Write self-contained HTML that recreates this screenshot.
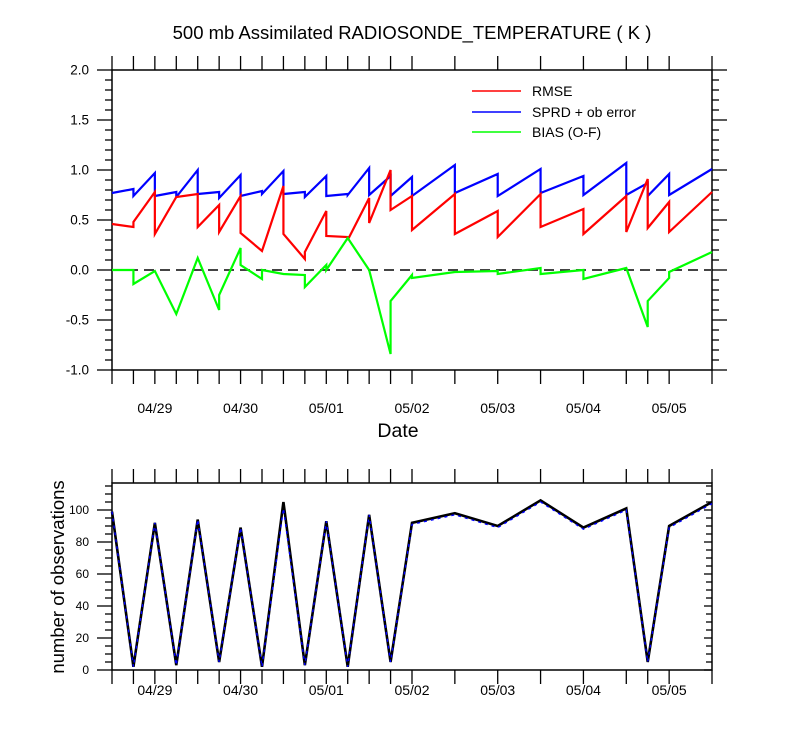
<!DOCTYPE html>
<html><head><meta charset="utf-8"><style>
body{margin:0;background:#fff}
svg text{font-family:"Liberation Sans",Arial,sans-serif;fill:#000}
</style></head><body>
<svg id="chart" width="800" height="750" xmlns="http://www.w3.org/2000/svg">
<text x="412" y="39" font-size="18.5" text-anchor="middle">500 mb Assimilated RADIOSONDE_TEMPERATURE ( K )</text>
<text x="398" y="437" font-size="19.5" text-anchor="middle">Date</text>
<text transform="translate(64,577) rotate(-90)" font-size="18.5" text-anchor="middle">number of observations</text>
<g>
<line x1="472" y1="91" x2="521" y2="91" stroke="#f00" stroke-width="1.5"/>
<text x="532" y="96" font-size="14">RMSE</text>
<line x1="472" y1="112" x2="521" y2="112" stroke="#00f" stroke-width="1.5"/>
<text x="532" y="117" font-size="14">SPRD + ob error</text>
<line x1="472" y1="132" x2="521" y2="132" stroke="#0f0" stroke-width="1.5"/>
<text x="532" y="137" font-size="14">BIAS (O-F)</text>
</g>
</svg>
<script>
const hours=[0,6,12,18,24,30,36,42,48,54,60,66,72,78,84,96,108,120,132,144,150,156,168];
const rmseIn =[.46,.43,.78,.73,.76,.65,.74,.19,.84,.11,.59,.33,.72,1.0,.74,.76,.59,.76,.61,.74,.91,.68,.78];
const rmseOut=[.46,.48,.36,.73,.43,.38,.37,.19,.36,.18,.34,.30,.47,.60,.40,.36,.33,.43,.36,.38,.42,.38,.78];
const sprdIn =[.77,.81,.97,.78,1.0,.78,.95,.79,.99,.78,.94,.76,1.02,.94,.93,1.05,.96,1.01,.94,1.07,.87,.96,1.01];
const sprdOut=[.77,.74,.74,.73,.76,.72,.74,.76,.76,.73,.74,.75,.75,.74,.74,.77,.74,.77,.75,.75,.74,.75,1.01];
const biasIn =[0,0,-.01,-.44,.12,-.40,.22,-.09,-.04,-.05,.05,.32,0,-.84,-.05,-.02,-.01,.02,0,.02,-.57,-.08,.18];
const biasOut=[0,-.14,-.01,-.44,.12,-.25,.05,0,-.04,-.17,0,.32,0,-.31,-.08,-.02,-.04,-.04,-.09,.02,-.31,-.02,.18];
const obsBlue=[99,2,92,3,94,5,89,2,101,3,93,2,97,5,91,97,89,105,88,100,5,89,104];
const obsBlack=[99,2,92,3,94,5,89,2,105,3,93,2,97,5,92,98,90,106,89,101,5,90,105];
const dateLabels=['04/29','04/30','05/01','05/02','05/03','05/04','05/05'];
const dateHours=[12,36,60,84,108,132,156];
const topTicks=[-1.0,-0.5,0.0,0.5,1.0,1.5,2.0];
const botTicks=[0,20,40,60,80,100];

const svg=document.getElementById('chart');
const NS='http://www.w3.org/2000/svg';
const X0=112,X1=712;
const xs=h=>X0+h*(X1-X0)/168;
const yTop=v=>370-(v+1)*100;
const yBot=v=>670-v*1.6;
function el(tag,attrs,parent){const e=document.createElementNS(NS,tag);for(const k in attrs)e.setAttribute(k,attrs[k]);(parent||svg).appendChild(e);return e;}
function ln(x1,y1,x2,y2,g,w){return el('line',{x1,y1,x2,y2,stroke:'#000','stroke-width':w||1.3},g);}

const gt=el('g',{});


el('rect',{x:X0,y:70,width:600,height:300,fill:'none',stroke:'#000','stroke-width':1.5},gt);
for(let i=0;i<=30;i++){const v=-1+i*0.1;const y=yTop(v);const maj=i%5==0;
 ln(X0-(maj?15:7),y,X0,y,gt);ln(X1,y,X1+(maj?15:7),y,gt);}
topTicks.forEach(v=>{const t=el('text',{x:89,y:yTop(v)+4.5,'font-size':13.5,'text-anchor':'end'});t.textContent=v.toFixed(1);
 
 });
hours.forEach(h=>{ln(xs(h),70,xs(h),56,gt);ln(xs(h),370,xs(h),384,gt);});
dateHours.forEach((h,i)=>{const t=el('text',{x:xs(h),y:413,'font-size':14,'text-anchor':'middle'});t.textContent=dateLabels[i];
 
 });
const zl=el('line',{x1:X0,y1:yTop(0),x2:X1,y2:yTop(0),stroke:'#444','stroke-width':2,'stroke-dasharray':'10,6'});


function series(inA,outA,color,name){let p=[];hours.forEach((h,i)=>{p.push(xs(h)+','+yTop(inA[i]));p.push(xs(h)+','+yTop(outA[i]));});
 const e=el('polyline',{points:p.join(' '),fill:'none',stroke:color,'stroke-width':2.2,'stroke-linejoin':'miter'});
 
 }
series(sprdIn,sprdOut,'#00f','sprd-line');
series(rmseIn,rmseOut,'#f00','rmse-line');
series(biasIn,biasOut,'#0f0','bias-line');

const gb=el('g',{});


el('rect',{x:X0,y:483,width:600,height:187,fill:'none',stroke:'#000','stroke-width':1.5},gb);
for(let v=0;v<=115;v+=5){const y=yBot(v);const maj=v%20==0;
 ln(X0-(maj?15:7),y,X0,y,gb);ln(X1-(maj?8:6),y,X1,y,gb);}
botTicks.forEach(v=>{const t=el('text',{x:89,y:yBot(v)+4,'font-size':12,'text-anchor':'end'});t.textContent=v;
 
 });
hours.forEach(h=>{ln(xs(h),483,xs(h),469,gb);ln(xs(h),670,xs(h),684,gb);});
dateHours.forEach((h,i)=>{const t=el('text',{x:xs(h),y:695,'font-size':14,'text-anchor':'middle'});t.textContent=dateLabels[i];
 
 });
const pb=el('polyline',{points:hours.map((h,i)=>xs(h)+','+yBot(obsBlack[i])).join(' '),fill:'none',stroke:'#000','stroke-width':2.6});


const pu=el('polyline',{points:hours.map((h,i)=>xs(h)+','+yBot(obsBlue[i])).join(' '),fill:'none',stroke:'#00f','stroke-width':1.4,'stroke-dasharray':'3,4'});


</script>
</body></html>
